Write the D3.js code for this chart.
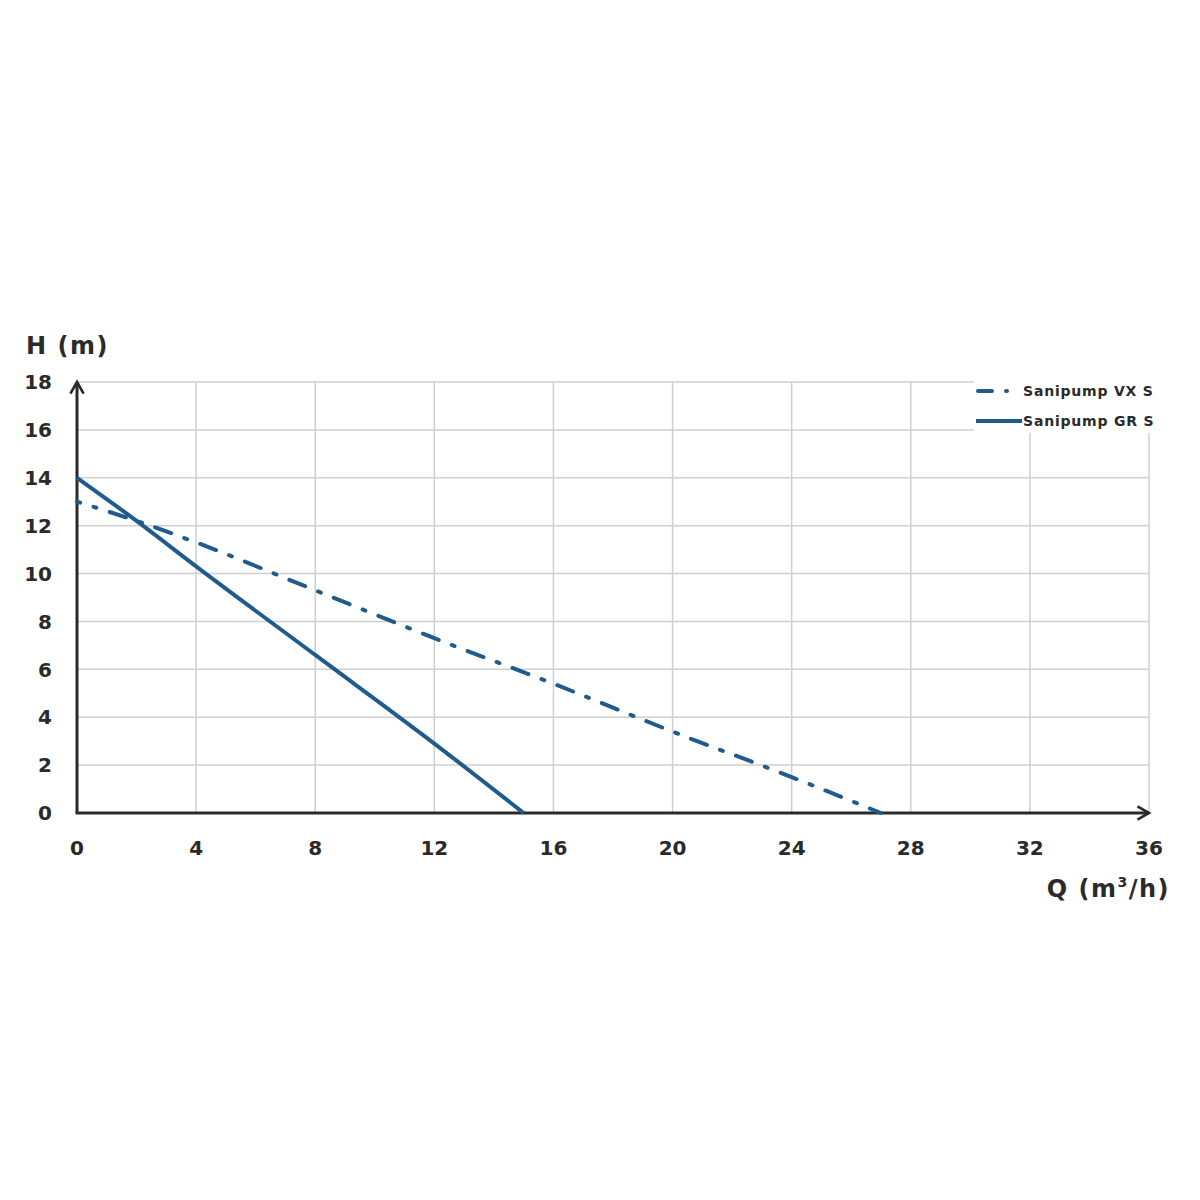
<!DOCTYPE html>
<html>
<head>
<meta charset="utf-8">
<script src="https://cdn.jsdelivr.net/npm/d3@7"></script>
<style>
  body { margin: 0; background: #fff; }
  text { font-family: "DejaVu Sans", sans-serif; font-weight: 700; fill: #2a2a2a; }
</style>
</head>
<body>
<div class="chart"></div>
<script>
var svgWidth = 1200;
var svgHeight = 1200;

// data
var qGR = [0, 2, 4, 8, 12, 15];
var hGR = [14, 12.2, 10.3, 6.6, 2.9, 0];
var qVX = [0, 2, 4, 8, 12, 16, 20, 24, 27];
var hVX = [13, 12.2, 11.3, 9.3, 7.3, 5.4, 3.4, 1.5, 0];
var xTicks = [0, 4, 8, 12, 16, 20, 24, 28, 32, 36];
var yTicks = [0, 2, 4, 6, 8, 10, 12, 14, 16, 18];
var seriesNames = ["Sanipump VX S", "Sanipump GR S"];

var lineColor = "#1f5b8c";
var dashDot = "17,14,3,14";

var svg = d3.select(".chart")
  .append("svg")
  .attr("width", svgWidth)
  .attr("height", svgHeight);

var x = d3.scaleLinear().domain([0, 36]).range([77, 1149]);
var y = d3.scaleLinear().domain([0, 18]).range([813, 382]);

// grid
svg.append("g")
  .selectAll("line")
  .data(xTicks.slice(1))
  .enter()
  .append("line")
  .attr("x1", d => x(d)).attr("x2", d => x(d))
  .attr("y1", y(18)).attr("y2", y(0))
  .attr("stroke", "#cfcfcf")
  .attr("stroke-width", 1.5);

svg.append("g")
  .selectAll("line")
  .data(yTicks.slice(1))
  .enter()
  .append("line")
  .attr("x1", x(0)).attr("x2", x(36))
  .attr("y1", d => y(d)).attr("y2", d => y(d))
  .attr("stroke", "#cfcfcf")
  .attr("stroke-width", 1.5);

// legend background hides the grid behind it
svg.append("rect")
  .attr("x", 974).attr("y", y(18) - 1)
  .attr("width", x(36) - 974 + 30).attr("height", 52)
  .attr("fill", "#fff");

// axes with arrows
svg.append("defs").append("marker")
  .attr("id", "arrow")
  .attr("viewBox", "0 0 10 10")
  .attr("refX", 8).attr("refY", 5)
  .attr("markerWidth", 5.5).attr("markerHeight", 5.5)
  .attr("orient", "auto")
  .append("path")
  .attr("d", "M1,1 L8,5 L1,9")
  .attr("fill", "none")
  .attr("stroke", "#2a2a2a")
  .attr("stroke-width", 1.6);

svg.append("line")
  .attr("x1", x(0)).attr("y1", y(0))
  .attr("x2", x(0)).attr("y2", y(18))
  .attr("stroke", "#2a2a2a").attr("stroke-width", 3)
  .attr("marker-end", "url(#arrow)");

svg.append("line")
  .attr("x1", x(0) - 1.5).attr("y1", y(0))
  .attr("x2", x(36)).attr("y2", y(0))
  .attr("stroke", "#2a2a2a").attr("stroke-width", 3)
  .attr("marker-end", "url(#arrow)");

// tick labels
svg.append("g")
  .selectAll("text")
  .data(yTicks)
  .enter()
  .append("text")
  .attr("x", 52)
  .attr("y", d => y(d))
  .attr("dy", "0.36em")
  .attr("text-anchor", "end")
  .attr("font-size", 20)
  .text(d => d);

svg.append("g")
  .selectAll("text")
  .data(xTicks)
  .enter()
  .append("text")
  .attr("x", d => x(d))
  .attr("y", 855)
  .attr("text-anchor", "middle")
  .attr("font-size", 20)
  .text(d => d);

// axis titles
svg.append("text")
  .attr("x", 26).attr("y", 354)
  .attr("font-size", 24)
  .attr("letter-spacing", 1.5)
  .text("H (m)");

var qLabel = svg.append("text")
  .attr("x", 1170).attr("y", 897)
  .attr("text-anchor", "end")
  .attr("font-size", 24)
  .attr("letter-spacing", 1.5);
qLabel.append("tspan").text("Q (m");
qLabel.append("tspan").attr("font-size", 14).attr("dy", -10).text("3");
qLabel.append("tspan").attr("dy", 10).text("/h)");

// curves
var line = d3.line()
  .x(d => x(d[0]))
  .y(d => y(d[1]))
  .curve(d3.curveMonotoneX);

var vxPath = svg.append("path")
  .datum(d3.zip(qVX, hVX))
  .attr("d", line)
  .attr("fill", "none")
  .attr("stroke", lineColor)
  .attr("stroke-width", 4)
  .attr("stroke-linecap", "round")
  .attr("stroke-dasharray", dashDot);

// shift the pattern so the curve ends on a dash at the axis
var len = vxPath.node().getTotalLength();
var period = 48;
vxPath.attr("stroke-dashoffset", ((12 - len) % period + period) % period);

svg.append("path")
  .datum(d3.zip(qGR, hGR))
  .attr("d", line)
  .attr("fill", "none")
  .attr("stroke", lineColor)
  .attr("stroke-width", 4);

// legend
var legendY = [391, 421];
svg.append("line")
  .attr("x1", 978).attr("x2", 1018)
  .attr("y1", legendY[0]).attr("y2", legendY[0])
  .attr("stroke", lineColor).attr("stroke-width", 4)
  .attr("stroke-linecap", "round")
  .attr("stroke-dasharray", "14,14,1,14");
svg.append("line")
  .attr("x1", 976).attr("x2", 1022)
  .attr("y1", legendY[1]).attr("y2", legendY[1])
  .attr("stroke", lineColor).attr("stroke-width", 4);

svg.append("g")
  .selectAll("text")
  .data(seriesNames)
  .enter()
  .append("text")
  .attr("x", 1023)
  .attr("y", (d, i) => legendY[i])
  .attr("dy", "0.36em")
  .attr("font-size", 14)
  .attr("letter-spacing", 0.8)
  .text(d => d);
</script>
</body>
</html>
